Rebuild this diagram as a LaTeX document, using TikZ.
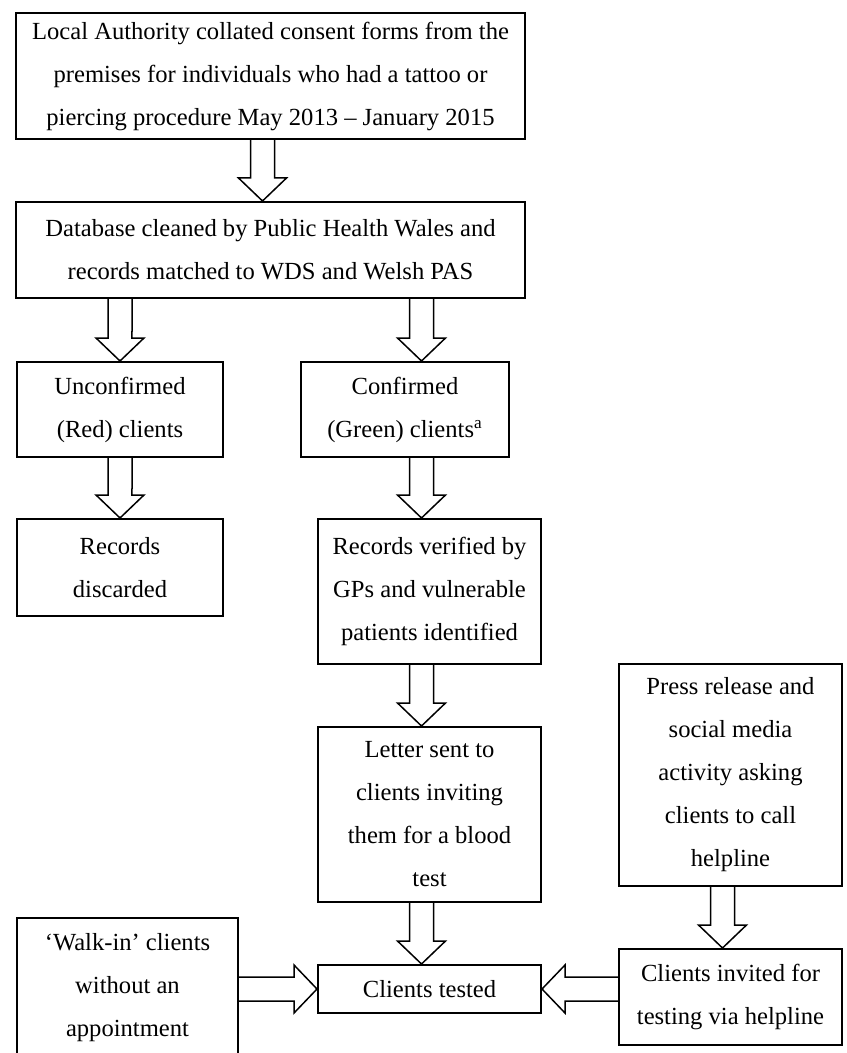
\documentclass[tikz,border=0pt]{standalone}
\usepackage{fontspec}
\setmainfont{Liberation Serif}
\usetikzlibrary{calc}
\tikzset{
    stepbox/.style={draw=black, line width=1pt, align=center, inner sep=2pt,
        font=\fontsize{12.3}{21.5}\selectfont},
    blockarrow/.style={draw=black, line width=0.75pt, line join=miter,
        to path={($(\tikztostart)!6pt!90:(\tikztotarget)$)
            -- ($(\tikztotarget)!12.97pt!-27.55:(\tikztostart)$)
            -- ($(\tikztotarget)!16.62pt!-46.22:(\tikztostart)$)
            -- (\tikztotarget)
            -- ($(\tikztotarget)!16.62pt!46.22:(\tikztostart)$)
            -- ($(\tikztotarget)!12.97pt!27.55:(\tikztostart)$)
            -- ($(\tikztostart)!6pt!-90:(\tikztotarget)$)}},
}
\begin{document}
\begin{tikzpicture}[x=0.5pt, y=-0.5pt]
	\useasboundingbox (0,0) rectangle (846,1053);
	% boxes
	\node[stepbox, minimum width=254.5pt, minimum height=63pt] (auth) at (270.5,76)
		{Local Authority collated consent forms from the\\ premises for individuals who had a tattoo or\\ piercing procedure May 2013 -- January 2015};
	\node[stepbox, minimum width=254.5pt, minimum height=48pt] (db) at (270.5,250)
		{Database cleaned by Public Health Wales and\\ records matched to WDS and Welsh PAS};
	\node[stepbox, minimum width=103pt, minimum height=47.5pt] (unconf) at (120,409.5)
		{Unconfirmed\\ (Red) clients};
	\node[stepbox, minimum width=104pt, minimum height=47.5pt] (conf) at (405,409.5)
		{Confirmed\\ (Green) clients\textsuperscript{a}};
	\node[stepbox, minimum width=103pt, minimum height=48.5pt] (disc) at (120,567.5)
		{Records\\ discarded};
	\node[stepbox, minimum width=111.5pt, minimum height=72.5pt] (verif) at (429.5,591.5)
		{Records verified by\\ GPs and vulnerable\\ patients identified};
	\node[stepbox, minimum width=111.5pt, minimum height=87.5pt] (letter) at (429.5,814.5)
		{Letter sent to\\ clients inviting\\ them for a blood\\ test};
	\node[stepbox, minimum width=111.5pt, minimum height=24pt] (tested) at (429.5,989)
		{Clients tested};
	\node[stepbox, minimum width=111.5pt, minimum height=111pt] (press) at (730.5,775)
		{Press release and\\ social media\\ activity asking\\ clients to call\\ helpline};
	\node[stepbox, minimum width=111.5pt, minimum height=48pt] (invited) at (730.5,997)
		{Clients invited for\\ testing via helpline};
	\node[stepbox, minimum width=110.5pt, minimum height=69.5pt] (walkin) at (127.5,987.5)
		{‘Walk-in’ clients\\ without an\\ appointment};
	% hollow arrows
	\draw[blockarrow] ($(auth.south)+(-8,0)$) to ($(db.north)+(-8,0)$);
	\draw[blockarrow] (db.south -| unconf.north) to (unconf.north);
	\draw[blockarrow] ($(db.south -| verif.north)+(-8,0)$) to ($(conf.north -| verif.north)+(-8,0)$);
	\draw[blockarrow] (unconf.south) to (disc.north);
	\draw[blockarrow] ($(conf.south -| verif.north)+(-8,0)$) to ($(verif.north)+(-8,0)$);
	\draw[blockarrow] ($(verif.south)+(-8,0)$) to ($(letter.north)+(-8,0)$);
	\draw[blockarrow] ($(letter.south)+(-8,0)$) to ($(tested.north)+(-8,0)$);
	\draw[blockarrow] ($(press.south)+(-8,0)$) to ($(invited.north)+(-8,0)$);
	\draw[blockarrow] (walkin.east |- tested.west) to (tested.west);
	\draw[blockarrow] (invited.west |- tested.east) to (tested.east);
\end{tikzpicture}
\end{document}
